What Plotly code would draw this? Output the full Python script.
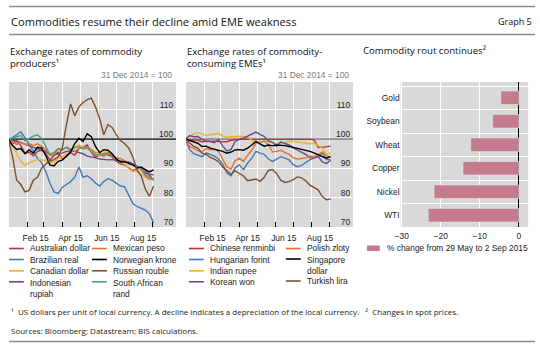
import plotly.graph_objects as go
import pandas as pd

W, H = 540, 355

# ---------------- data ----------------
dates = list(pd.date_range("2014-12-31", periods=36, freq="7D").strftime("%Y-%m-%d"))

aud = [100, 98.3, 99.5, 97.8, 95.2, 95.5, 94.3, 95.8, 96.2, 95.2, 92.8, 94.5, 95.5, 93.2, 94.0, 95.4,
       94.5, 96.8, 97.2, 98.0, 95.5, 93.8, 94.8, 95.0, 94.6, 94.0, 92.5, 91.6, 91.2, 90.2, 89.2, 90.0,
       90.4, 89.3, 87.5, 86.0]
brl = [100, 100.5, 101.5, 102.5, 100.5, 98.0, 96.0, 93.5, 92.0, 89.0, 85.0, 82.0, 81.5, 83.5, 84.5, 85.5,
       87.0, 90.5, 87.0, 87.5, 86.5, 85.0, 84.0, 85.5, 86.5, 86.0, 85.0, 84.0, 83.8, 81.0, 78.0, 77.0,
       76.5, 75.8, 74.5, 71.5]
cad = [100, 98.0, 95.0, 92.5, 91.0, 92.0, 92.5, 93.0, 93.0, 92.5, 92.0, 92.0, 93.5, 94.0, 95.0, 96.0,
       97.0, 98.0, 97.0, 96.5, 96.0, 95.0, 94.0, 95.5, 95.5, 94.5, 93.0, 92.0, 91.5, 90.0, 89.0, 89.0,
       88.0, 87.0, 86.5, 86.0]
idr = [100, 99.5, 99.2, 98.8, 98.2, 97.8, 97.2, 96.8, 96.4, 95.8, 94.8, 94.6, 95.0, 95.2, 95.8, 96.0,
       95.8, 95.4, 95.0, 94.2, 94.0, 93.6, 93.2, 93.0, 92.9, 93.0, 92.8, 92.6, 92.6, 92.2, 91.6, 90.8,
       89.6, 88.4, 88.0, 87.8]
mxn = [100, 99.0, 98.2, 99.0, 98.2, 98.5, 97.8, 98.4, 97.6, 96.5, 94.5, 94.8, 96.6, 96.2, 97.4, 96.6,
       95.8, 96.8, 97.2, 97.5, 96.4, 95.4, 95.3, 94.8, 95.3, 94.2, 93.6, 93.4, 92.7, 91.5, 91.3, 90.4,
       89.6, 87.5, 86.2, 86.8]
nok = [100, 97.8, 96.5, 96.8, 95.0, 96.4, 95.2, 97.2, 97.0, 94.5, 91.2, 90.8, 92.4, 92.8, 94.2, 95.6,
       98.5, 100.3, 99.2, 101.8, 100.8, 97.5, 95.4, 96.4, 96.2, 95.0, 93.2, 92.2, 92.3, 91.8, 91.2, 90.2,
       90.5, 89.6, 88.8, 89.5]
rub = [100, 94.0, 86.0, 84.5, 82.0, 82.5, 86.0, 87.0, 90.0, 91.5, 92.5, 93.0, 94.0, 97.0, 105.0, 112.0,
       108.0, 111.0, 112.5, 113.5, 114.0, 111.0, 107.0, 101.5, 105.0, 104.0, 101.5, 99.5, 98.5, 97.0, 94.0, 89.5,
       87.5, 83.0, 80.5, 84.0]
zar = [100, 100.5, 100.8, 101.2, 99.4, 100.2, 101.0, 101.5, 100.2, 97.5, 94.8, 95.5, 96.8, 96.5, 97.0, 96.4,
       97.2, 97.4, 96.6, 97.2, 95.6, 94.6, 94.8, 94.2, 95.2, 94.6, 93.4, 92.4, 92.2, 91.8, 91.2, 90.8,
       90.2, 87.8, 87.0, 86.0]

cny = [100, 99.6, 99.8, 99.6, 99.1, 99.2, 99.2, 99.3, 99.2, 99.1, 99.1, 99.6, 99.8, 100.0, 99.9, 99.9,
       99.9, 100.1, 100.0, 100.0, 99.9, 100.0, 100.0, 99.9, 100.0, 100.0, 99.9, 99.9, 99.9, 99.9, 99.9, 99.8,
       97.2, 97.2, 97.3, 97.6]
huf = [100, 96.5, 95.0, 94.6, 94.0, 95.3, 94.8, 94.2, 93.2, 91.5, 88.4, 87.5, 90.2, 91.2, 89.6, 91.8,
       93.5, 95.8, 95.2, 94.8, 93.2, 92.4, 93.2, 94.0, 93.5, 92.9, 91.3, 90.6, 91.0, 92.0, 93.0, 93.5,
       94.0, 95.2, 93.0, 93.0]
inr = [100, 100.8, 101.8, 102.2, 101.8, 101.2, 101.5, 101.8, 101.9, 101.1, 100.6, 100.9, 100.8, 101.0, 100.9, 100.7,
       99.6, 99.2, 98.8, 99.3, 99.1, 98.9, 98.4, 98.6, 98.9, 99.3, 99.3, 99.1, 98.8, 98.7, 98.4, 98.6,
       97.8, 97.0, 94.8, 95.3]
krw = [100, 101.2, 100.8, 100.9, 99.9, 99.4, 99.2, 98.8, 99.9, 97.6, 96.0, 96.5, 99.2, 99.9, 100.3, 101.0,
       101.8, 102.4, 101.6, 100.9, 99.4, 98.9, 97.6, 99.1, 98.5, 98.0, 97.0, 96.3, 95.5, 94.8, 93.7, 93.6,
       94.1, 92.2, 91.7, 92.8]
pln = [100, 97.5, 96.8, 96.0, 95.6, 96.8, 96.4, 96.5, 95.8, 93.4, 90.5, 89.8, 92.6, 93.5, 92.4, 94.5,
       96.2, 98.6, 99.0, 99.3, 98.2, 95.6, 95.8, 96.2, 95.4, 94.8, 93.6, 93.2, 93.4, 93.6, 94.2, 94.0,
       94.8, 95.6, 94.2, 94.0]
sgd = [100, 99.6, 99.2, 98.6, 97.5, 97.6, 96.9, 96.6, 96.3, 95.8, 95.2, 95.6, 96.3, 96.4, 96.2, 96.9,
       98.0, 99.2, 98.4, 97.6, 98.0, 97.7, 98.0, 98.0, 97.8, 97.5, 97.2, 96.9, 96.6, 96.3, 95.8, 95.3,
       94.6, 94.0, 93.5, 94.0]
tryl = [100, 98.8, 97.5, 96.9, 95.2, 94.8, 93.8, 93.2, 92.3, 90.5, 89.2, 88.0, 89.2, 88.4, 87.4, 85.8,
        86.1, 86.4, 85.6, 87.0, 89.3, 89.6, 88.2, 86.0, 85.2, 85.5, 86.2, 87.1, 86.8, 85.8, 84.3, 83.4,
        82.7, 80.4, 79.3, 79.5]

commodities = ["Gold", "Soybean", "Wheat", "Copper", "Nickel", "WTI"]
commodity_change = [-4.6, -6.7, -12.3, -14.3, -21.7, -23.2]

time_tick_vals = ["2015-02-15", "2015-04-15", "2015-06-15", "2015-08-15"]
time_tick_text = ["Feb 15", "Apr 15", "Jun 15", "Aug 15"]
month_starts = ["2015-%02d-01" % m for m in range(2, 10)]
level_ticks = [70, 80, 90, 100, 110]
pct_ticks = [-30, -20, -10, 0]
pct_tick_text = ["\u221230", "\u221220", "\u221210", "0"]

# ---------------- style ----------------
RED, BLUE, GOLD, PURPLE = "#B8323C", "#4677B3", "#F0AE2A", "#6A4A8E"
ORANGE, BLACK, BROWN, TEAL = "#E8702A", "#000000", "#7D4F2C", "#4A9E8C"
BAR = "#C47B8C"
BG = "#D9D9D9"
TXT = "Liberation Sans"
HEAD = "Open Sans"
FS = 8.4

left_series = [("Australian dollar", aud, RED), ("Brazilian real", brl, BLUE),
               ("Canadian dollar", cad, GOLD), ("Indonesian rupiah", idr, PURPLE),
               ("Mexican peso", mxn, ORANGE), ("South African rand", zar, TEAL),
               ("Norwegian krone", nok, BLACK), ("Russian rouble", rub, BROWN)]
mid_series = [("Chinese renminbi", cny, RED), ("Hungarian forint", huf, BLUE),
              ("Indian rupee", inr, GOLD), ("Korean won", krw, PURPLE),
              ("Polish zloty", pln, ORANGE), ("Singapore dollar", sgd, BLACK),
              ("Turkish lira", tryl, BROWN)]


def px(x):
    return x / W


def py(y):
    return 1 - y / H


fig = go.Figure()
# reference lines at 100 (drawn first, below the currency series)
fig.add_trace(go.Scatter(x=["2014-12-01", "2015-11-01"], y=[100, 100], mode="lines",
                         line=dict(color="#000", width=1.2), xaxis="x", yaxis="y",
                         showlegend=False, hoverinfo="skip"))
fig.add_trace(go.Scatter(x=["2014-12-01", "2015-11-01"], y=[100, 100], mode="lines",
                         line=dict(color="#6E6E6E", width=1.2), xaxis="x2", yaxis="y2",
                         showlegend=False, hoverinfo="skip"))
for name, vals, col in left_series:
    fig.add_trace(go.Scatter(x=dates, y=vals, name=name, mode="lines",
                             line=dict(color=col, width=1.4), xaxis="x", yaxis="y",
                             showlegend=False))
for name, vals, col in mid_series:
    fig.add_trace(go.Scatter(x=dates, y=vals, name=name, mode="lines",
                             line=dict(color=col, width=1.4), xaxis="x2", yaxis="y2",
                             showlegend=False))
fig.add_trace(go.Bar(y=commodities, x=commodity_change, orientation="h", marker_color=BAR,
                     width=0.57, xaxis="x3", yaxis="y3", showlegend=False,
                     name="% change from 29 May to 2 Sep 2015"))

ydom = [py(227), py(82)]
time_axis = dict(type="date", range=["2015-01-01", "2015-10-10"], tickmode="array",
                 tickvals=time_tick_vals, ticktext=time_tick_text, ticks="", showgrid=False,
                 showline=False, zeroline=False, tickfont=dict(family=TXT, size=FS, color="#222"),
                 ticklabelstandoff=5,
                 minor=dict(tickmode="array", tickvals=month_starts, ticks="inside", ticklen=5,
                            tickcolor="#000", tickwidth=1, showgrid=True, gridcolor="white",
                            gridwidth=1))
level_axis = dict(range=[70, 119.5], tickmode="array", tickvals=level_ticks, side="right",
                  ticklabelposition="inside", ticks="", showgrid=True, gridcolor="white",
                  gridwidth=1, zeroline=False, showline=False, ticklabelshift=-5,
                  tickfont=dict(family=TXT, size=FS, color="#222"))

fig.update_layout(
    width=W, height=H, autosize=False, margin=dict(l=0, r=0, t=0, b=0),
    paper_bgcolor="white", plot_bgcolor=BG,
    xaxis=dict(domain=[px(3), px(172)], anchor="y", **time_axis),
    yaxis=dict(domain=ydom, anchor="x", **level_axis),
    xaxis2=dict(domain=[px(182), px(351)], anchor="y2", **time_axis),
    yaxis2=dict(domain=ydom, anchor="x2", **level_axis),
    xaxis3=dict(domain=[px(399), px(528)], anchor="y3", range=[-30.3, 2.4], tickmode="array",
                tickvals=pct_ticks, ticktext=pct_tick_text, showgrid=True, gridcolor="white",
                zeroline=True, zerolinecolor="#000", zerolinewidth=1, ticks="",
                ticklabelstandoff=3,
                tickfont=dict(family=TXT, size=FS, color="#222")),
    yaxis3=dict(domain=ydom, anchor="x3", type="category", categoryorder="array",
                categoryarray=commodities, range=[5.5, -0.67], tickson="boundaries",
                showgrid=True, gridcolor="white", ticks="",
                tickfont=dict(family=TXT, size=FS, color="#222")),
    bargap=0.43,
)

shapes = []
# header / footer rules
for yy in (6.5, 34.5, 341.5):
    shapes.append(dict(type="line", xref="paper", yref="paper", x0=px(3), x1=px(535),
                       y0=py(yy), y1=py(yy), line=dict(color="#8C8C8C", width=1.6)))

annotations = []


def note(x, y, text, size=FS, family=TXT, color="#222", xanchor="left", yanchor="middle"):
    annotations.append(dict(x=px(x), y=py(y), xref="paper", yref="paper", text=text,
                            showarrow=False, xanchor=xanchor, yanchor=yanchor,
                            font=dict(family=family, size=size, color=color), align="left"))


def legend_item(x, y, text, color, two_lines=False):
    shapes.append(dict(type="line", xref="paper", yref="paper", x0=px(x), x1=px(x + 15),
                       y0=py(y), y1=py(y), line=dict(color=color, width=1.6)))
    if two_lines:
        note(x + 19, y - 6.0, text, yanchor="top")
    else:
        note(x + 19, y, text)


# titles
note(3, 21, "Commodities resume their decline amid EME weakness", size=11.1, family=HEAD, color="#111")
note(534, 21.5, "Graph 5", size=9, family=HEAD, color="#111", xanchor="right")
note(2, 43, "Exchange rates of commodity<br>producers\u00b9", size=9.6, family=HEAD,
     color="#111", yanchor="top")
note(181, 43, "Exchange rates of commodity-<br>consuming EMEs\u00b9", size=9.6, family=HEAD,
     color="#111", yanchor="top")
note(359, 50, "Commodity rout continues\u00b2", size=9.6, family=HEAD, color="#111")
note(170, 75, "31 Dec 2014 = 100", color="#7A7A7A", xanchor="right")
note(349, 75, "31 Dec 2014 = 100", color="#7A7A7A", xanchor="right")

# left legend
legend_item(3, 248.5, "Australian dollar", RED)
legend_item(3, 259.5, "Brazilian real", BLUE)
legend_item(3, 270.8, "Canadian dollar", GOLD)
legend_item(3, 281.8, "Indonesian<br>rupiah", PURPLE, True)
legend_item(87, 248.5, "Mexican peso", ORANGE)
legend_item(87, 259.5, "Norwegian krone", BLACK)
legend_item(87, 270.8, "Russian rouble", BROWN)
legend_item(87, 281.8, "South African<br>rand", TEAL, True)
# middle legend
legend_item(185, 248.5, "Chinese renminbi", RED)
legend_item(185, 259.5, "Hungarian forint", BLUE)
legend_item(185, 270.8, "Indian rupee", GOLD)
legend_item(185, 281.8, "Korean won", PURPLE)
legend_item(283, 248.5, "Polish zloty", ORANGE)
legend_item(283, 259.0, "Singapore<br>dollar", BLACK, True)
legend_item(283, 281.0, "Turkish lira", BROWN)
# right legend
shapes.append(dict(type="rect", xref="paper", yref="paper", x0=px(365), x1=px(378),
                   y0=py(251), y1=py(245.5), fillcolor=BAR, line=dict(width=0)))
note(383, 248.3, "% change from 29 May to 2 Sep 2015")

# footnotes
note(3, 311, "\u00b9  US dollars per unit of local currency. A decline indicates a depreciation of the local currency.   "
     "\u00b2  Changes in spot prices.", size=8.0, family=HEAD, color="#222")
note(3, 330, "Sources: Bloomberg; Datastream; BIS calculations.", size=8.0, family=HEAD, color="#222")

fig.update_layout(shapes=shapes, annotations=annotations)
fig.write_html("out.html", config={"displayModeBar": False},
               post_script="document.body.style.margin='0px';")
